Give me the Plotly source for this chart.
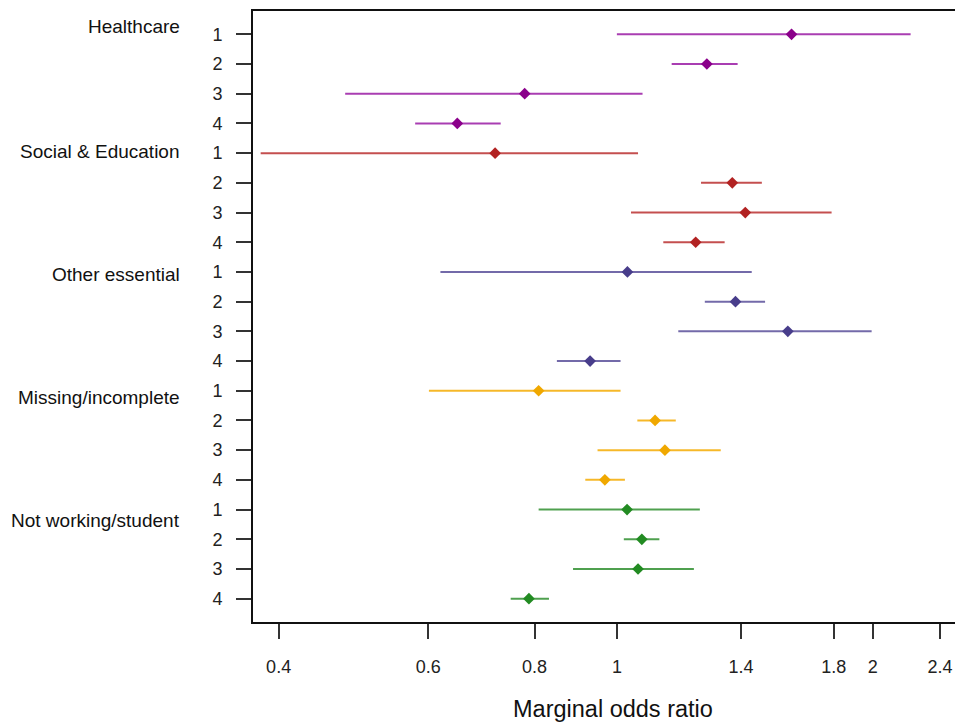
import plotly.graph_objects as go

# ---- data ----
groups = ["Healthcare", "Social & Education", "Other essential",
          "Missing/incomplete", "Not working/student"]
levels = ["1", "2", "3", "4"]

healthcare_est = [1.605, 1.276, 0.779, 0.649]
healthcare_lo = [1.000, 1.160, 0.479, 0.579]
healthcare_hi = [2.216, 1.387, 1.072, 0.730]

social_est = [0.719, 1.367, 1.416, 1.238]
social_lo = [0.381, 1.256, 1.039, 1.134]
social_hi = [1.059, 1.481, 1.789, 1.339]

other_est = [1.029, 1.379, 1.589, 0.930]
other_lo = [0.620, 1.269, 1.181, 0.850]
other_hi = [1.441, 1.494, 1.994, 1.010]

missing_est = [0.809, 1.109, 1.139, 0.968]
missing_lo = [0.601, 1.057, 0.949, 0.918]
missing_hi = [1.010, 1.173, 1.325, 1.022]

notwork_est = [1.028, 1.070, 1.059, 0.788]
notwork_lo = [0.809, 1.019, 0.888, 0.750]
notwork_hi = [1.252, 1.122, 1.232, 0.832]

x_ticks = [0.4, 0.6, 0.8, 1, 1.4, 1.8, 2, 2.4]
x_title = "Marginal odds ratio"

# ---- styling ----
est = [healthcare_est, social_est, other_est, missing_est, notwork_est]
lo = [healthcare_lo, social_lo, other_lo, missing_lo, notwork_lo]
hi = [healthcare_hi, social_hi, other_hi, missing_hi, notwork_hi]
colors = ["#8B008B", "#B22222", "#483D8B", "#F0A800", "#228B22"]
line_colors = ["rgba(160,40,170,0.9)", "rgba(190,60,60,0.9)", "rgba(100,90,160,0.9)",
               "rgba(245,180,30,0.95)", "rgba(60,150,60,0.9)"]
label_y = [0.73, 4.93, 9.10, 13.24, 17.36]
FONT = "Liberation Sans, Arial, sans-serif"

fig = go.Figure()
row = 0
all_rows = []
for g, name in enumerate(groups):
    ys = [row + i + 1 for i in range(len(levels))]
    all_rows += ys
    row += len(levels)
    fig.add_trace(go.Scatter(
        x=est[g], y=ys, mode="markers", name=name, showlegend=False,
        marker=dict(symbol="diamond", size=9, color=colors[g]),
        error_x=dict(type="data", symmetric=False,
                     array=[h - e for h, e in zip(hi[g], est[g])],
                     arrayminus=[e - l for e, l in zip(est[g], lo[g])],
                     width=0, thickness=2, color=line_colors[g]),
    ))

ticktext = levels * len(groups)

fig.add_shape(type="line", xref="x", yref="paper", x0=0, x1=0, y0=0, y1=1,
              line=dict(color="red", width=1.5), layer="above")

for name, yv in zip(groups, label_y):
    fig.add_annotation(text=name, xref="paper", yref="y", x=-0.1005, y=yv,
                       xanchor="right", yanchor="middle", showarrow=False,
                       font=dict(family=FONT, size=19, color="#111"))

fig.add_annotation(text=x_title, xref="paper", yref="paper", x=0.5126, y=-0.143,
                   xanchor="center", yanchor="middle", showarrow=False,
                   font=dict(family=FONT, size=23.5, color="#111"))

fig.update_xaxes(type="log", range=[-0.4281, 0.3978],
                 tickvals=x_ticks, ticktext=[str(v) for v in x_ticks],
                 showgrid=False, zeroline=False,
                 showline=True, mirror=True, linecolor="#111", linewidth=2,
                 ticks="outside", ticklen=15, tickwidth=1.5, tickcolor="#333",
                 ticklabelstandoff=12,
                 tickfont=dict(family=FONT, size=18, color="#222"))
fig.update_yaxes(range=[20.785, 0.215], tickvals=all_rows, ticktext=ticktext,
                 showgrid=False, zeroline=False,
                 showline=True, mirror=False, linecolor="#111", linewidth=2,
                 ticks="outside", ticklen=15, tickwidth=1.5, tickcolor="#333",
                 ticklabelstandoff=10,
                 tickfont=dict(family=FONT, size=18, color="#222"))

fig.update_layout(width=955, height=722, autosize=False,
                  margin=dict(l=253, r=0, t=11, b=100),
                  paper_bgcolor="white", plot_bgcolor="white",
                  font=dict(family=FONT))

fig.write_html(
    "out.html",
    config={"displayModeBar": False},
    post_script="document.body.style.margin='0';document.body.style.overflow='hidden';",
)
